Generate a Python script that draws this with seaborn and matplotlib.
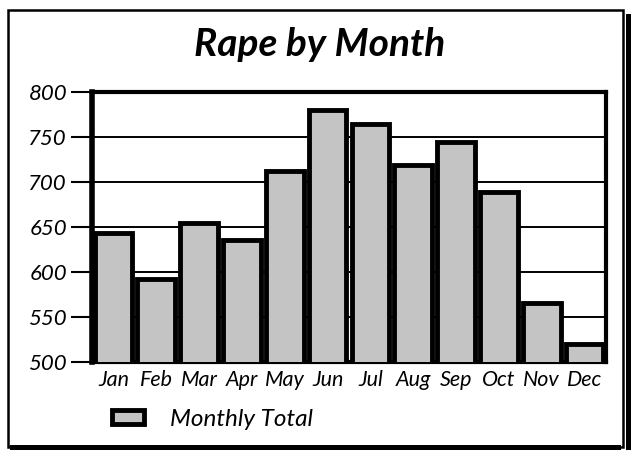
import matplotlib
matplotlib.use("Agg")
import matplotlib.pyplot as plt
from matplotlib.patches import Rectangle, Patch
import seaborn as sns
import pandas as pd

months = ["Jan", "Feb", "Mar", "Apr", "May", "Jun", "Jul", "Aug", "Sep", "Oct", "Nov", "Dec"]
totals = [643, 592, 654, 636, 712, 780, 764, 719, 745, 689, 566, 520]
yticks = [500, 550, 600, 650, 700, 750, 800]
title = "Rape by Month"
legend_label = "Monthly Total"

sns.set_theme(style="white")
plt.rcParams["font.family"] = ["Lato", "DejaVu Sans"]
plt.rcParams["text.color"] = "black"

W, H = 631, 450
fig = plt.figure(figsize=(W / 100, H / 100), dpi=100)
fig.patch.set_facecolor("white")

def fx(px):
    return px / W

def fy(py):
    return 1 - py / H

ax = fig.add_axes([fx(92), fy(362), fx(606) - fx(92), fy(92) - fy(362)])

bar_color = "#c4c4c4"
df = pd.DataFrame({"month": months, "total": totals})
sns.barplot(data=df, x="month", y="total", ax=ax, color=bar_color,
            edgecolor="black", linewidth=3.5, width=0.88, saturation=1, zorder=3)

ax.set_ylim(500, 800)
ax.set_yticks(yticks)
ax.set_yticklabels([str(v) for v in yticks], fontsize=16, style="italic")
ax.set_xticks(range(len(months)))
ax.set_xticklabels(months, fontsize=15.5, style="italic")
ax.set_xlabel("")
ax.set_ylabel("")
ax.yaxis.grid(True, color="black", linewidth=1.4, zorder=0)
ax.set_axisbelow(True)
ax.tick_params(axis="y", length=15, width=1.5, color="black", direction="out", pad=3, labelcolor="black", left=True)
ax.tick_params(axis="x", length=0, pad=6, labelcolor="black")
for s in ax.spines.values():
    s.set_visible(True)
    s.set_color("black")
    s.set_linewidth(3)
ax.spines["left"].set_linewidth(4)

fig.text(fx(320), fy(45), title, ha="center", va="center", fontsize=28,
         fontweight="bold", style="italic", color="black")

handle = Patch(facecolor=bar_color, edgecolor="black", linewidth=3.5)
fig.legend(handles=[handle], labels=[legend_label], loc="center left",
           bbox_to_anchor=(fx(112), fy(419)), frameon=False, labelcolor="black",
           prop={"style": "italic", "size": 17.5}, handlelength=1.3, handleheight=0.55,
           handletextpad=1.1, borderpad=0, borderaxespad=0)

# outer frame with drop shadow
fig.patches.append(Rectangle((fx(626), fy(450)), fx(5), fy(14) - fy(450),
                             transform=fig.transFigure, facecolor="black", edgecolor="none"))
fig.patches.append(Rectangle((fx(10), fy(450)), fx(621) - fx(10), fy(445) - fy(450),
                             transform=fig.transFigure, facecolor="black", edgecolor="none"))
fig.patches.append(Rectangle((fx(8), fy(447)), fx(623) - fx(8), fy(10) - fy(447),
                             transform=fig.transFigure, facecolor="none", edgecolor="black", linewidth=1.8))

fig.savefig("out.png", dpi=100)
